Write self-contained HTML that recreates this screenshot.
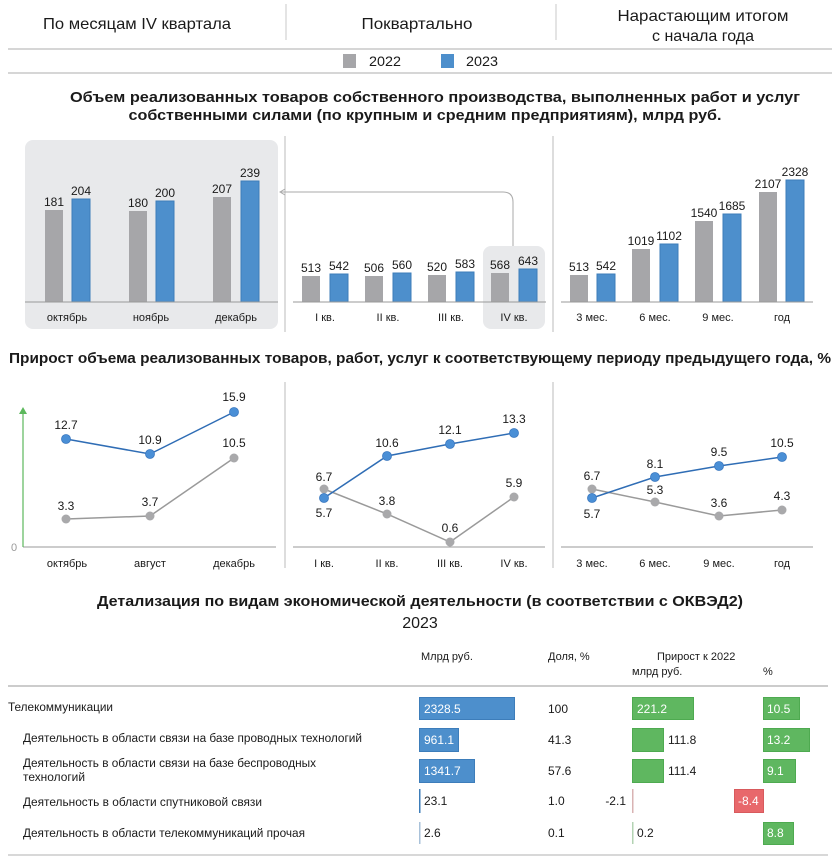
<!DOCTYPE html>
<html><head><meta charset="utf-8">
<style>
html,body{margin:0;padding:0;background:#fff;}
svg{display:block;font-family:"Liberation Sans","DejaVu Sans",sans-serif;}
</style></head>
<body>
<svg width="840" height="861" viewBox="0 0 840 861" xmlns="http://www.w3.org/2000/svg">
<!-- Header -->
<g fill="#1a1a1a" font-size="16" text-anchor="middle">
<text x="137" y="29" textLength="188" lengthAdjust="spacingAndGlyphs">По месяцам IV квартала</text>
<text x="417" y="29" textLength="111" lengthAdjust="spacingAndGlyphs">Поквартально</text>
<text x="703" y="21" textLength="171" lengthAdjust="spacingAndGlyphs">Нарастающим итогом</text>
<text x="703" y="41" textLength="102" lengthAdjust="spacingAndGlyphs">с начала года</text>
</g>
<line x1="286" y1="4" x2="286" y2="40" stroke="#c8c8c8" stroke-width="1"/>
<line x1="556" y1="4" x2="556" y2="40" stroke="#c8c8c8" stroke-width="1"/>
<line x1="8" y1="49" x2="832" y2="49" stroke="#c8c8c8" stroke-width="1.5"/>
<rect x="343" y="54" width="13" height="14" fill="#a6a6a9"/>
<text x="369" y="66" font-size="14" fill="#1a1a1a" textLength="32" lengthAdjust="spacingAndGlyphs">2022</text>
<rect x="441" y="54" width="13" height="14" fill="#4d8fcc"/>
<text x="466" y="66" font-size="14" fill="#1a1a1a" textLength="32" lengthAdjust="spacingAndGlyphs">2023</text>
<line x1="8" y1="73" x2="832" y2="73" stroke="#c8c8c8" stroke-width="1.5"/>

<!-- Title 1 -->
<g fill="#1a1a1a" font-size="15" font-weight="bold" text-anchor="middle">
<text x="435" y="102" textLength="730" lengthAdjust="spacingAndGlyphs">Объем реализованных товаров собственного производства, выполненных работ и услуг</text>
<text x="425" y="120" textLength="593" lengthAdjust="spacingAndGlyphs">собственными силами (по крупным и средним предприятиям), млрд руб.</text>
</g>

<!-- Bar chart backgrounds -->
<rect x="25" y="140" width="253" height="189" rx="8" fill="#e8e9eb"/>
<rect x="483" y="246" width="62" height="83" rx="8" fill="#e8e9eb"/>
<line x1="285" y1="136" x2="285" y2="332" stroke="#bbb" stroke-width="1"/>
<line x1="553" y1="136" x2="553" y2="332" stroke="#bbb" stroke-width="1"/>
<!-- connector arrow -->
<path d="M513 246 V202 Q513 192 503 192 H281" fill="none" stroke="#aaa" stroke-width="1"/>
<path d="M285 189 L280 192 L285 195" fill="none" stroke="#aaa" stroke-width="1"/>

<!-- Bars -->
<g stroke-width="1">
<!-- panel 1 -->
<rect x="45" y="210" width="18" height="92" fill="#a6a6a9"/>
<rect x="72" y="199" width="18" height="103" fill="#4d8fcc" stroke="#3d7dba"/>
<rect x="129" y="211" width="18" height="91" fill="#a6a6a9"/>
<rect x="156" y="201" width="18" height="101" fill="#4d8fcc" stroke="#3d7dba"/>
<rect x="213" y="197" width="18" height="105" fill="#a6a6a9"/>
<rect x="241" y="181" width="18" height="121" fill="#4d8fcc" stroke="#3d7dba"/>
<!-- panel 2 -->
<rect x="302" y="276" width="18" height="26" fill="#a6a6a9"/>
<rect x="330" y="274" width="18" height="28" fill="#4d8fcc" stroke="#3d7dba"/>
<rect x="365" y="276" width="18" height="26" fill="#a6a6a9"/>
<rect x="393" y="273" width="18" height="29" fill="#4d8fcc" stroke="#3d7dba"/>
<rect x="428" y="275" width="18" height="27" fill="#a6a6a9"/>
<rect x="456" y="272" width="18" height="30" fill="#4d8fcc" stroke="#3d7dba"/>
<rect x="491" y="273" width="18" height="29" fill="#a6a6a9"/>
<rect x="519" y="269" width="18" height="33" fill="#4d8fcc" stroke="#3d7dba"/>
<!-- panel 3 -->
<rect x="570" y="275" width="18" height="27" fill="#a6a6a9"/>
<rect x="597" y="274" width="18" height="28" fill="#4d8fcc" stroke="#3d7dba"/>
<rect x="632" y="249" width="18" height="53" fill="#a6a6a9"/>
<rect x="660" y="244" width="18" height="58" fill="#4d8fcc" stroke="#3d7dba"/>
<rect x="695" y="221" width="18" height="81" fill="#a6a6a9"/>
<rect x="723" y="214" width="18" height="88" fill="#4d8fcc" stroke="#3d7dba"/>
<rect x="759" y="192" width="18" height="110" fill="#a6a6a9"/>
<rect x="786" y="180" width="18" height="122" fill="#4d8fcc" stroke="#3d7dba"/>
</g>
<line x1="25" y1="302" x2="278" y2="302" stroke="#999" stroke-width="1"/>
<line x1="293" y1="302" x2="546" y2="302" stroke="#999" stroke-width="1"/>
<line x1="561" y1="302" x2="813" y2="302" stroke="#999" stroke-width="1"/>

<!-- bar value labels -->
<g fill="#1a1a1a" font-size="12" text-anchor="middle">
<text x="54" y="206">181</text><text x="81" y="195">204</text>
<text x="138" y="207">180</text><text x="165" y="197">200</text>
<text x="222" y="193">207</text><text x="250" y="177">239</text>
<text x="311" y="272">513</text><text x="339" y="270">542</text>
<text x="374" y="272">506</text><text x="402" y="269">560</text>
<text x="437" y="271">520</text><text x="465" y="268">583</text>
<text x="500" y="269">568</text><text x="528" y="265">643</text>
<text x="579" y="271">513</text><text x="606" y="270">542</text>
<text x="641" y="245">1019</text><text x="669" y="240">1102</text>
<text x="704" y="217">1540</text><text x="732" y="210">1685</text>
<text x="768" y="188">2107</text><text x="795" y="176">2328</text>
</g>
<g fill="#1a1a1a" font-size="11" text-anchor="middle">
<text x="67" y="321">октябрь</text><text x="151" y="321">ноябрь</text><text x="236" y="321">декабрь</text>
<text x="325" y="321">I кв.</text><text x="388" y="321">II кв.</text><text x="451" y="321">III кв.</text><text x="514" y="321">IV кв.</text>
<text x="592" y="321">3 мес.</text><text x="655" y="321">6 мес.</text><text x="718" y="321">9 мес.</text><text x="782" y="321">год</text>
</g>

<!-- Title 2 -->
<text x="420" y="363" fill="#1a1a1a" font-size="15" font-weight="bold" text-anchor="middle" textLength="822" lengthAdjust="spacingAndGlyphs">Прирост объема реализованных товаров, работ, услуг к соответствующему периоду предыдущего года, %</text>

<!-- Line charts -->
<line x1="285" y1="382" x2="285" y2="568" stroke="#bbb" stroke-width="1"/>
<line x1="553" y1="382" x2="553" y2="568" stroke="#bbb" stroke-width="1"/>
<line x1="23" y1="547" x2="276" y2="547" stroke="#999" stroke-width="1"/>
<line x1="293" y1="547" x2="545" y2="547" stroke="#999" stroke-width="1"/>
<line x1="561" y1="547" x2="813" y2="547" stroke="#999" stroke-width="1"/>
<line x1="23" y1="547" x2="23" y2="412" stroke="#5cb85c" stroke-width="1.2"/>
<path d="M19 414 L23 407 L27 414 Z" fill="#5cb85c"/>
<text x="14" y="551" fill="#999" font-size="11" text-anchor="middle">0</text>

<g fill="none" stroke-width="1.5">
<polyline points="66,519 150,516 234,458" stroke="#9a9a9a"/>
<polyline points="66,439 150,454 234,412" stroke="#2f6db5"/>
<polyline points="324,489 387,514 450,542 514,497" stroke="#9a9a9a"/>
<polyline points="324,498 387,456 450,444 514,433" stroke="#2f6db5"/>
<polyline points="592,489 655,502 719,516 782,510" stroke="#9a9a9a"/>
<polyline points="592,498 655,477 719,466 782,457" stroke="#2f6db5"/>
</g>
<g fill="#a9a9ab">
<circle cx="66" cy="519" r="4.5"/><circle cx="150" cy="516" r="4.5"/><circle cx="234" cy="458" r="4.5"/>
<circle cx="324" cy="489" r="4.5"/><circle cx="387" cy="514" r="4.5"/><circle cx="450" cy="542" r="4.5"/><circle cx="514" cy="497" r="4.5"/>
<circle cx="592" cy="489" r="4.5"/><circle cx="655" cy="502" r="4.5"/><circle cx="719" cy="516" r="4.5"/><circle cx="782" cy="510" r="4.5"/>
</g>
<g fill="#4a8fd6" stroke="#3a78c0" stroke-width="0.8">
<circle cx="66" cy="439" r="4.5"/><circle cx="150" cy="454" r="4.5"/><circle cx="234" cy="412" r="4.5"/>
<circle cx="324" cy="498" r="4.5"/><circle cx="387" cy="456" r="4.5"/><circle cx="450" cy="444" r="4.5"/><circle cx="514" cy="433" r="4.5"/>
<circle cx="592" cy="498" r="4.5"/><circle cx="655" cy="477" r="4.5"/><circle cx="719" cy="466" r="4.5"/><circle cx="782" cy="457" r="4.5"/>
</g>
<g fill="#1a1a1a" font-size="12" text-anchor="middle">
<text x="66" y="429">12.7</text><text x="150" y="444">10.9</text><text x="234" y="401">15.9</text>
<text x="66" y="510">3.3</text><text x="150" y="506">3.7</text><text x="234" y="447">10.5</text>
<text x="324" y="481">6.7</text><text x="324" y="517">5.7</text>
<text x="387" y="447">10.6</text><text x="387" y="505">3.8</text>
<text x="450" y="434">12.1</text><text x="450" y="532">0.6</text>
<text x="514" y="423">13.3</text><text x="514" y="487">5.9</text>
<text x="592" y="480">6.7</text><text x="592" y="518">5.7</text>
<text x="655" y="468">8.1</text><text x="655" y="494">5.3</text>
<text x="719" y="456">9.5</text><text x="719" y="507">3.6</text>
<text x="782" y="447">10.5</text><text x="782" y="500">4.3</text>
</g>
<g fill="#1a1a1a" font-size="11" text-anchor="middle">
<text x="67" y="567">октябрь</text><text x="150" y="567">август</text><text x="234" y="567">декабрь</text>
<text x="324" y="567">I кв.</text><text x="387" y="567">II кв.</text><text x="450" y="567">III кв.</text><text x="514" y="567">IV кв.</text>
<text x="592" y="567">3 мес.</text><text x="655" y="567">6 мес.</text><text x="719" y="567">9 мес.</text><text x="782" y="567">год</text>
</g>

<!-- Table -->
<text x="420" y="606" fill="#1a1a1a" font-size="15" font-weight="bold" text-anchor="middle" textLength="646" lengthAdjust="spacingAndGlyphs">Детализация по видам экономической деятельности (в соответствии с ОКВЭД2)</text>
<text x="420" y="628" fill="#1a1a1a" font-size="16" text-anchor="middle">2023</text>
<g fill="#1a1a1a" font-size="11">
<text x="421" y="660">Млрд руб.</text>
<text x="548" y="660">Доля, %</text>
<text x="657" y="660">Прирост к 2022</text>
<text x="632" y="675">млрд руб.</text>
<text x="763" y="675">%</text>
</g>
<line x1="8" y1="686" x2="828" y2="686" stroke="#bbb" stroke-width="1.5"/>
<line x1="8" y1="855" x2="828" y2="855" stroke="#ccc" stroke-width="1.5"/>

<g fill="#1a1a1a" font-size="11.5">
<text x="8" y="711" textLength="105" lengthAdjust="spacingAndGlyphs">Телекоммуникации</text>
<text x="23" y="742" textLength="339" lengthAdjust="spacingAndGlyphs">Деятельность в области связи на базе проводных технологий</text>
<text x="23" y="767" textLength="293" lengthAdjust="spacingAndGlyphs">Деятельность в области связи на базе беспроводных</text>
<text x="23" y="781" textLength="62" lengthAdjust="spacingAndGlyphs">технологий</text>
<text x="23" y="806" textLength="239" lengthAdjust="spacingAndGlyphs">Деятельность в области спутниковой связи</text>
<text x="23" y="837" textLength="282" lengthAdjust="spacingAndGlyphs">Деятельность в области телекоммуникаций прочая</text>
</g>

<!-- table bars -->
<g stroke-width="1">
<rect x="419.5" y="697.5" width="95" height="22" fill="#4d8fcc" stroke="#3d7dba"/>
<rect x="419.5" y="728.5" width="39" height="23" fill="#4d8fcc" stroke="#3d7dba"/>
<rect x="419.5" y="759.5" width="55" height="23" fill="#4d8fcc" stroke="#3d7dba"/>
<rect x="419" y="789" width="1.5" height="24" fill="#3d7dba"/>
<rect x="419" y="822" width="1.5" height="22" fill="#a9c2da"/>

<rect x="632.5" y="697.5" width="61" height="22" fill="#5fb760" stroke="#4eaa50"/>
<rect x="632.5" y="728.5" width="31" height="23" fill="#5fb760" stroke="#4eaa50"/>
<rect x="632.5" y="759.5" width="31" height="23" fill="#5fb760" stroke="#4eaa50"/>
<rect x="632" y="789" width="1.5" height="24" fill="#d9b3b3"/>
<rect x="632" y="822" width="1.5" height="22" fill="#b3d3b3"/>

<rect x="763.5" y="697.5" width="36" height="22" fill="#5fb760" stroke="#4eaa50"/>
<rect x="763.5" y="728.5" width="46" height="23" fill="#5fb760" stroke="#4eaa50"/>
<rect x="763.5" y="759.5" width="32" height="23" fill="#5fb760" stroke="#4eaa50"/>
<rect x="734.5" y="789.5" width="29" height="23" fill="#e8686b" stroke="#d85a5d"/>
<rect x="763.5" y="822.5" width="30" height="22" fill="#5fb760" stroke="#4eaa50"/>
</g>
<g font-size="12">
<text x="424" y="713" fill="#fff">2328.5</text>
<text x="424" y="744" fill="#fff">961.1</text>
<text x="424" y="775" fill="#fff">1341.7</text>
<text x="424" y="805" fill="#1a1a1a">23.1</text>
<text x="424" y="837" fill="#1a1a1a">2.6</text>

<text x="548" y="713" fill="#1a1a1a">100</text>
<text x="548" y="744" fill="#1a1a1a">41.3</text>
<text x="548" y="775" fill="#1a1a1a">57.6</text>
<text x="548" y="805" fill="#1a1a1a">1.0</text>
<text x="548" y="837" fill="#1a1a1a">0.1</text>

<text x="637" y="713" fill="#fff">221.2</text>
<text x="668" y="744" fill="#1a1a1a">111.8</text>
<text x="668" y="775" fill="#1a1a1a">111.4</text>
<text x="626" y="805" fill="#1a1a1a" text-anchor="end">-2.1</text>
<text x="637" y="837" fill="#1a1a1a">0.2</text>

<text x="767" y="713" fill="#fff">10.5</text>
<text x="767" y="744" fill="#fff">13.2</text>
<text x="767" y="775" fill="#fff">9.1</text>
<text x="738" y="805" fill="#fff">-8.4</text>
<text x="767" y="837" fill="#fff">8.8</text>
</g>
</svg>
</body></html>
